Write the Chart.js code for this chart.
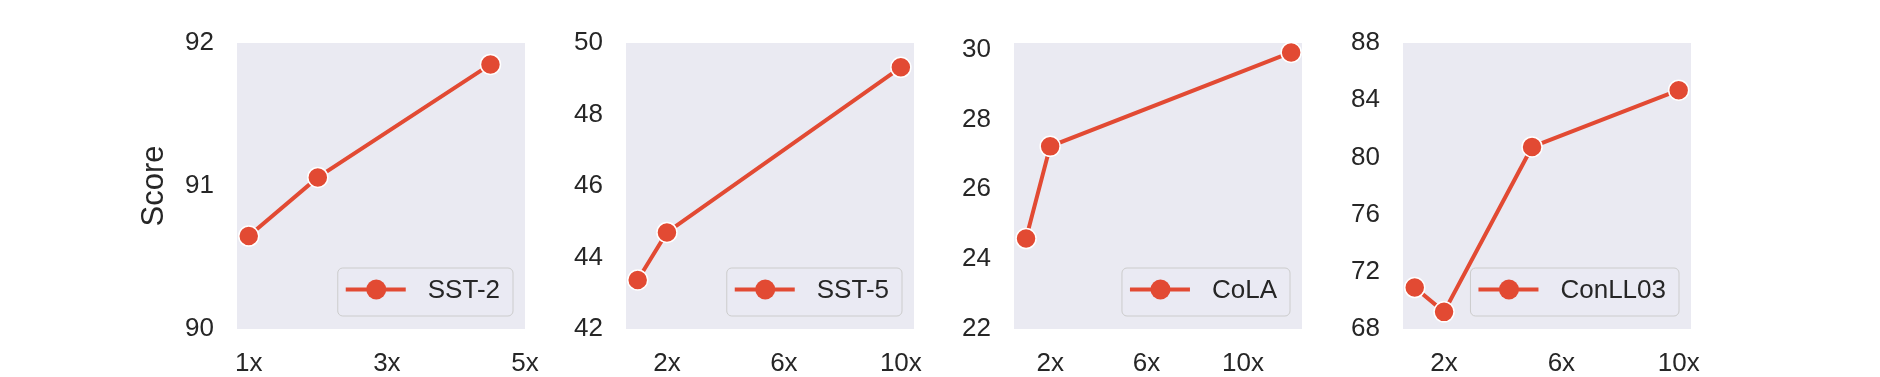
<!DOCTYPE html>
<html lang="en">
<head>
<meta charset="UTF-8">
<title>Score vs. data size</title>
<script src="https://cdn.jsdelivr.net/npm/chart.js"></script>
<style>
    * { margin: 0; padding: 0; box-sizing: border-box; }
    body { background: #fff; width: 1880px; height: 377px; overflow: hidden; }
    .panel { position: absolute; left: 0; top: 0; }
</style>
</head>
<body>
<canvas id="c0" class="panel" width="1880" height="377"></canvas>
<canvas id="c1" class="panel" width="1880" height="377"></canvas>
<canvas id="c2" class="panel" width="1880" height="377"></canvas>
<canvas id="c3" class="panel" width="1880" height="377"></canvas>
<script>
// data
const taskNames = ['SST-2', 'SST-5', 'CoLA', 'ConLL03'];

const sst2X = [1, 2, 4.5];
const sst2Y = [90.65, 91.06, 91.85];
const sst5X = [1, 2, 10];
const sst5Y = [43.37, 44.70, 49.32];
const colaX = [1, 2, 12];
const colaY = [24.59, 27.23, 29.92];
const conllX = [1, 2, 5, 10];
const conllY = [70.9, 69.2, 80.73, 84.7];

const sst2XTicks = [1, 3, 5];
const otherXTicks = [2, 6, 10];
const sst2YTicks = [90, 91, 92];
const sst5YTicks = [42, 44, 46, 48, 50];
const colaYTicks = [22, 24, 26, 28, 30];
const conllYTicks = [68, 72, 76, 80, 84, 88];

const RED = '#E24A33';
const BG = '#EAEAF2';
const TXT = '#262626';
const FONT = '"Liberation Sans", Arial, sans-serif';

// layout of each panel (pixel box of plot area + axis ranges)
const panels = [
    { xs: sst2X, ys: sst2Y, xTicks: sst2XTicks, yTicks: sst2YTicks, left: 237, right: 525, xMin: 0.83, xMax: 5, yMin: 90, yMax: 92, title: 'Score' },
    { xs: sst5X, ys: sst5Y, xTicks: otherXTicks, yTicks: sst5YTicks, left: 626, right: 914, xMin: 0.6, xMax: 10.45, yMin: 42, yMax: 50 },
    { xs: colaX, ys: colaY, xTicks: otherXTicks, yTicks: colaYTicks, left: 1014, right: 1302, xMin: 0.5, xMax: 12.45, yMin: 22, yMax: 30.19 },
    { xs: conllX, ys: conllY, xTicks: otherXTicks, yTicks: conllYTicks, left: 1403, right: 1691, xMin: 0.6, xMax: 10.42, yMin: 68, yMax: 88 }
];
const PLOT_TOP = 43, PLOT_BOTTOM = 329;

const bgPlugin = {
    id: 'bg',
    beforeDraw(chart) {
        const a = chart.chartArea;
        chart.ctx.save();
        chart.ctx.fillStyle = BG;
        chart.ctx.fillRect(a.left, a.top, a.right - a.left, a.bottom - a.top);
        chart.ctx.restore();
    }
};

// legend drawn inside the lower right corner, matplotlib style
const legendPlugin = {
    id: 'innerLegend',
    afterDraw(chart) {
        const ctx = chart.ctx, a = chart.chartArea;
        const label = chart.data.datasets[0].label;
        ctx.save();
        ctx.font = '26px ' + FONT;
        const tw = ctx.measureText(label).width;
        const w = 90 + tw + 13, h = 48;
        const x = a.right - 12 - w, y = a.bottom - 13 - h;
        ctx.beginPath();
        ctx.roundRect(x, y, w, h, 5);
        ctx.fillStyle = 'rgba(234,234,242,0.8)';
        ctx.fill();
        ctx.strokeStyle = '#cccccc';
        ctx.lineWidth = 1;
        ctx.stroke();
        const ry = y + 21.5;
        ctx.beginPath();
        ctx.moveTo(x + 8, ry);
        ctx.lineTo(x + 68, ry);
        ctx.strokeStyle = RED;
        ctx.lineWidth = 4;
        ctx.stroke();
        ctx.beginPath();
        ctx.arc(x + 38.5, ry, 10, 0, Math.PI * 2);
        ctx.fillStyle = RED;
        ctx.fill();
        ctx.fillStyle = TXT;
        ctx.textBaseline = 'middle';
        ctx.fillText(label, x + 90, ry + 1);
        ctx.restore();
    }
};

panels.forEach((p, i) => {
    const yw = p.title ? 107 : 80;
    new Chart(document.getElementById('c' + i), {
        type: 'line',
        data: {
            datasets: [{
                label: taskNames[i],
                data: p.xs.map((x, k) => ({ x: x, y: p.ys[k] })),
                borderColor: RED,
                backgroundColor: RED,
                borderWidth: 4,
                pointRadius: 10,
                pointHoverRadius: 10,
                pointBorderColor: '#fff',
                pointBorderWidth: 1.5,
                tension: 0,
                clip: false
            }]
        },
        options: {
            responsive: false,
            animation: false,
            events: [],
            layout: { padding: { left: p.left - yw, right: 1880 - p.right, top: PLOT_TOP, bottom: 0 } },
            plugins: { legend: { display: false }, tooltip: { enabled: false } },
            scales: {
                x: {
                    type: 'linear',
                    min: p.xMin,
                    max: p.xMax,
                    afterBuildTicks: s => { s.ticks = p.xTicks.map(v => ({ value: v })); },
                    afterFit: s => { s.height = 377 - PLOT_BOTTOM; },
                    grid: { display: false, drawTicks: false, tickLength: 0 },
                    border: { display: false },
                    ticks: { padding: 19, autoSkip: false, maxRotation: 0, color: TXT, font: { family: FONT, size: 26 }, callback: v => v + 'x' }
                },
                y: {
                    min: p.yMin,
                    max: p.yMax,
                    afterBuildTicks: s => { s.ticks = p.yTicks.map(v => ({ value: v })); },
                    afterFit: s => { s.width = yw; },
                    grid: { display: false, drawTicks: false, tickLength: 0 },
                    border: { display: false },
                    ticks: { padding: 23, autoSkip: false, color: TXT, font: { family: FONT, size: 26 }, callback: v => v },
                    title: { display: !!p.title, text: p.title || '', color: TXT, font: { family: FONT, size: 31 }, padding: { top: 6, bottom: 0 } }
                }
            }
        },
        plugins: [bgPlugin, legendPlugin]
    });
});
</script>
</body>
</html>
